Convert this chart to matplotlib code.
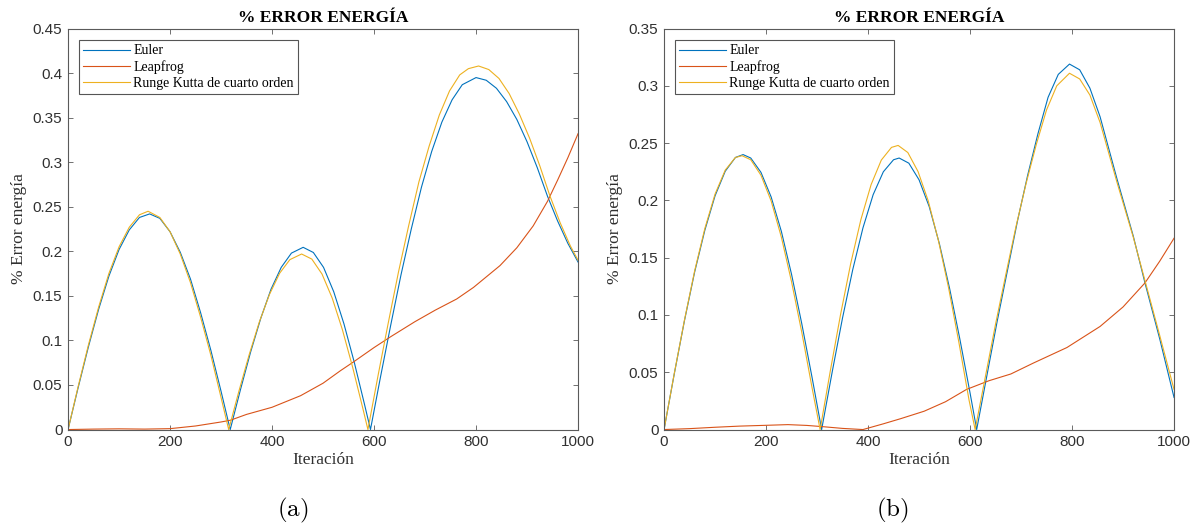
import matplotlib as mpl
mpl.use('Agg')
import matplotlib.pyplot as plt

# Energy error (%) per iteration, case (a)
euler_a_x = [0, 20, 40, 60, 80, 100, 120, 140, 160, 180, 200, 220, 240, 260, 280, 300, 318,
             338, 358, 378, 398, 418, 438, 461, 481, 501, 521, 541, 561, 581, 593,
             613, 633, 653, 673, 693, 713, 733, 753, 773, 800, 820, 840, 860, 880, 900, 920, 940, 960, 980, 1000]
euler_a_y = [0, 0.0475, 0.093, 0.135, 0.172, 0.202, 0.224, 0.238, 0.242, 0.237, 0.222, 0.199, 0.169, 0.131, 0.089, 0.043, 0,
             0.0446, 0.087, 0.125, 0.1575, 0.182, 0.198, 0.2045, 0.1987, 0.182, 0.1546, 0.1186, 0.076, 0.029, 0,
             0.060, 0.118, 0.174, 0.225, 0.272, 0.312, 0.345, 0.370, 0.387, 0.395, 0.392, 0.383, 0.368, 0.348, 0.323, 0.294, 0.262, 0.234, 0.209, 0.188]

leap_a_x = [0, 50, 100, 150, 200, 250, 300, 318, 350, 400, 456, 500, 534, 559, 600, 631, 680, 720, 762, 795,
            847, 880, 912, 940, 960, 980, 1000]
leap_a_y = [0, 0.0005, 0.0008, 0.0005, 0.001, 0.004, 0.0085, 0.0104, 0.017, 0.025, 0.038, 0.052, 0.066, 0.0756, 0.092,
            0.1036, 0.121, 0.134, 0.1465, 0.1595, 0.184, 0.204, 0.2285, 0.256, 0.28, 0.305, 0.332]

rk_a_x = [0, 20, 40, 60, 80, 100, 120, 140, 157, 180, 200, 220, 240, 260, 280, 300, 315,
          335, 355, 375, 395, 415, 435, 458, 478, 498, 518, 538, 558, 578, 588,
          608, 628, 648, 668, 688, 708, 728, 748, 768, 785, 805, 825, 845, 865, 885, 905, 925, 945, 965, 985, 1000]
rk_a_y = [0, 0.0487, 0.095, 0.1375, 0.175, 0.205, 0.227, 0.241, 0.245, 0.238, 0.222, 0.197, 0.165, 0.126, 0.0835, 0.036, 0,
          0.043, 0.0837, 0.1206, 0.1517, 0.1755, 0.1907, 0.197, 0.1913, 0.1745, 0.1475, 0.112, 0.070, 0.0238, 0,
          0.061, 0.12, 0.177, 0.229, 0.278, 0.318, 0.353, 0.380, 0.398, 0.405, 0.408, 0.404, 0.394, 0.377, 0.354, 0.327,
          0.296, 0.262, 0.232, 0.206, 0.19]

# Energy error (%) per iteration, case (b)
euler_b_x = [0, 20, 40, 60, 80, 100, 120, 140, 155, 170, 190, 210, 230, 250, 270, 290, 309,
             330, 350, 370, 390, 410, 430, 450, 461, 480, 500, 520, 540, 560, 580, 600, 613,
             633, 653, 673, 693, 713, 733, 753, 773, 795, 815, 835, 855, 888, 920, 943, 972, 1000]
euler_b_y = [0, 0.0485, 0.095, 0.1375, 0.174, 0.204, 0.2255, 0.2375, 0.240, 0.237, 0.2245, 0.203, 0.173, 0.1355, 0.0925, 0.046, 0,
             0.051, 0.0975, 0.1396, 0.176, 0.205, 0.225, 0.2355, 0.237, 0.2325, 0.218, 0.1945, 0.162, 0.123, 0.079, 0.032, 0,
             0.047, 0.094, 0.138, 0.182, 0.222, 0.258, 0.290, 0.310, 0.319, 0.314, 0.298, 0.273, 0.219, 0.169, 0.128, 0.079, 0.028]

leap_b_x = [0, 50, 100, 148, 200, 243, 280, 309, 350, 390, 430, 464, 510, 552, 593, 637, 680, 724, 790, 855,
            900, 943, 972, 1000]
leap_b_y = [0, 0.0008, 0.002, 0.003, 0.0037, 0.0043, 0.0036, 0.0026, 0.001, 0.0, 0.005, 0.0095, 0.016, 0.0243, 0.035,
            0.0426, 0.0485, 0.058, 0.0716, 0.090, 0.107, 0.128, 0.147, 0.167]

rk_b_x = [0, 20, 40, 60, 80, 100, 120, 140, 153, 170, 190, 210, 230, 250, 270, 290, 306,
          326, 346, 366, 386, 406, 426, 446, 459, 478, 498, 518, 538, 558, 578, 598, 610,
          630, 650, 670, 690, 710, 730, 750, 770, 795, 815, 835, 855, 888, 920, 943, 972, 1000]
rk_b_y = [0, 0.0488, 0.0955, 0.1385, 0.1755, 0.2055, 0.2265, 0.2375, 0.239, 0.2355, 0.222, 0.1995, 0.168, 0.129, 0.085, 0.037, 0,
          0.0512, 0.1002, 0.1449, 0.1833, 0.2138, 0.2352, 0.2463, 0.248, 0.2418, 0.2252, 0.1996, 0.165, 0.1235, 0.0764, 0.0258, 0,
          0.046, 0.092, 0.135, 0.177, 0.215, 0.249, 0.279, 0.300, 0.311, 0.306, 0.292, 0.268, 0.216, 0.168, 0.130, 0.082, 0.035]

labels = ['Euler', 'Leapfrog', 'Runge Kutta de cuarto orden']
colors = ['#0072BD', '#D95319', '#EDB120']
x_ticks = [0, 200, 400, 600, 800, 1000]
y_ticks_a = [0, 0.05, 0.1, 0.15, 0.2, 0.25, 0.3, 0.35, 0.4, 0.45]
y_ticks_b = [0, 0.05, 0.1, 0.15, 0.2, 0.25, 0.3, 0.35]

plt.rcParams['mathtext.fontset'] = 'cm'
serif = 'Liberation Serif'
sans = 'Liberation Sans'
axis_col = '#5a5a5a'

fig = plt.figure(figsize=(11.98, 5.29), dpi=100)
ax_a = fig.add_axes([0.0568, 0.188, 0.4257, 0.758])
ax_b = fig.add_axes([0.5543, 0.188, 0.4257, 0.758])

panels = [
    (ax_a, [(euler_a_x, euler_a_y), (leap_a_x, leap_a_y), (rk_a_x, rk_a_y)], y_ticks_a, '(a)', 0.244),
    (ax_b, [(euler_b_x, euler_b_y), (leap_b_x, leap_b_y), (rk_b_x, rk_b_y)], y_ticks_b, '(b)', 0.745),
]

for ax, series, yt, cap, cap_x in panels:
    for (xs, ys), lab, c in zip(series, labels, colors):
        ax.plot(xs, ys, color=c, lw=0.8, label=lab)
    ax.set_xlim(0, 1000)
    ax.set_ylim(yt[0], yt[-1])
    ax.set_xticks(x_ticks)
    ax.set_yticks(yt)
    ax.set_xticklabels([str(t) for t in x_ticks])
    ax.set_yticklabels(['%g' % t for t in yt])
    ax.tick_params(direction='in', top=True, right=True, length=3.6, width=0.6,
                   color=axis_col, labelsize=11, labelcolor='#303030', pad=4)
    for lbl in ax.get_xticklabels() + ax.get_yticklabels():
        lbl.set_family(sans)
    for sp in ax.spines.values():
        sp.set_color(axis_col)
        sp.set_linewidth(0.8)
    ax.set_title('% ERROR ENERGÍA', family=serif, fontweight='bold', fontsize=12.5, pad=5)
    ax.set_xlabel('Iteración', family=serif, fontsize=12.5, labelpad=2, color='#303030')
    ax.set_ylabel('% Error energía', family=serif, fontsize=12.5, labelpad=4, color='#303030')
    leg = ax.legend(loc='upper left', bbox_to_anchor=(0.0216, 0.971), borderaxespad=0,
                    prop={'family': serif, 'size': 10}, handlelength=3.4, labelspacing=0.2,
                    handletextpad=0.2, borderpad=0.3, fancybox=False, framealpha=1)
    leg.get_frame().set_edgecolor('#555555')
    leg.get_frame().set_linewidth(0.8)
    fig.text(cap_x, 0.036, r'$\mathrm{' + cap + '}$', fontsize=18, ha='center', va='center')

plt.savefig('out.png', dpi=100)
